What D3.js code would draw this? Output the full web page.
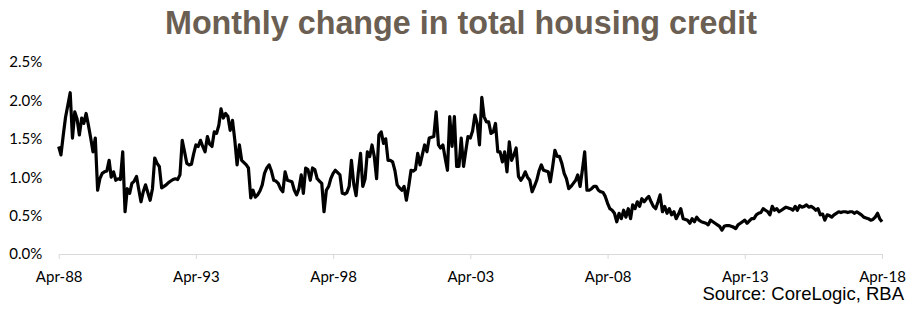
<!DOCTYPE html>
<html>
<head>
<meta charset="utf-8">
<script src="https://cdn.jsdelivr.net/npm/d3@7"></script>
<style>
  body { margin: 0; background: #fff; }
  svg { display: block; }
</style>
</head>
<body>
<svg id="chart"></svg>
<script>
// canvas size
const width = 914;
const height = 326;

// first month of the series (Apr-88), one value per month after that
const startMonth = new Date(1988, 3, 1);

// monthly change in housing credit, % (5 years per array)
const apr88to93 = [1.40, 1.29, 1.55, 1.78, 1.94, 2.10, 1.51, 1.85, 1.76, 1.55, 1.77, 1.70,
  1.83, 1.68, 1.51, 1.33, 1.51, 0.83, 0.98, 1.05, 1.07, 1.08, 1.22, 1.00,
  1.07, 0.96, 0.98, 0.97, 1.33, 0.55, 0.85, 0.79, 0.92, 0.95, 1.01, 0.85,
  0.68, 0.81, 0.90, 0.80, 0.70, 0.85, 1.25, 1.18, 1.14, 0.86, 0.88, 0.90,
  0.93, 0.95, 0.97, 0.98, 0.97, 1.03, 1.48, 1.33, 1.18, 1.16, 1.17, 1.30, 1.42];
const may93to98 = [1.40, 1.48, 1.40, 1.33, 1.53, 1.43, 1.40, 1.59, 1.57, 1.68, 1.89, 1.77,
  1.83, 1.79, 1.61, 1.74, 1.48, 1.16, 1.42, 1.22, 1.19, 1.16, 1.12, 0.73,
  0.83, 0.74, 0.77, 0.82, 0.90, 1.05, 1.12, 1.16, 1.08, 0.96, 0.95, 0.92,
  0.85, 0.81, 1.07, 0.96, 0.95, 0.94, 0.83, 0.77, 0.85, 1.03, 0.79, 1.12,
  1.10, 0.96, 1.12, 1.10, 0.98, 0.95, 0.92, 0.55, 0.83, 0.88, 0.98, 1.05];
const may98to03 = [1.09, 1.06, 1.03, 0.79, 0.78, 0.80, 0.88, 1.22, 0.91, 0.76, 1.05, 1.31,
  0.88, 0.98, 1.33, 1.27, 1.42, 1.27, 0.98, 1.55, 1.59, 1.44, 1.50, 1.22,
  1.22, 1.20, 1.09, 0.90, 0.86, 0.83, 0.88, 0.70, 0.88, 1.09, 1.08, 1.10,
  1.31, 1.16, 1.29, 1.42, 1.33, 1.51, 1.52, 1.53, 1.85, 1.42, 1.38, 1.42,
  1.25, 1.09, 1.79, 1.40, 1.79, 1.14, 1.14, 1.51, 1.14, 1.35, 1.53, 1.51];
const may03to08 = [1.60, 1.81, 1.70, 1.42, 2.04, 1.79, 1.72, 1.72, 1.57, 1.59, 1.70, 1.33,
  1.33, 1.20, 1.33, 1.07, 1.46, 1.22, 1.29, 1.38, 1.01, 0.96, 1.00, 1.07,
  1.00, 0.96, 0.81, 0.88, 0.96, 1.08, 1.16, 1.09, 1.08, 1.07, 0.94, 1.14,
  1.35, 1.27, 1.27, 1.18, 1.05, 0.98, 0.85, 0.88, 0.92, 0.96, 1.03, 0.88,
  1.09, 1.33, 0.83, 0.83, 0.85, 0.88, 0.88, 0.83, 0.81, 0.80, 0.75, 0.66];
const may08to13 = [0.59, 0.57, 0.53, 0.42, 0.53, 0.46, 0.57, 0.48, 0.59, 0.46, 0.64, 0.59,
  0.68, 0.62, 0.72, 0.68, 0.72, 0.75, 0.68, 0.62, 0.59, 0.68, 0.77, 0.55,
  0.62, 0.53, 0.59, 0.51, 0.55, 0.46, 0.52, 0.59, 0.46, 0.45, 0.44, 0.40,
  0.46, 0.42, 0.48, 0.44, 0.42, 0.41, 0.40, 0.38, 0.44, 0.42, 0.40, 0.38,
  0.36, 0.31, 0.36, 0.37, 0.37, 0.36, 0.35, 0.33, 0.38, 0.40, 0.42, 0.44];
const may13to18 = [0.40, 0.43, 0.46, 0.46, 0.51, 0.53, 0.54, 0.59, 0.57, 0.55, 0.51, 0.62,
  0.57, 0.59, 0.55, 0.57, 0.59, 0.61, 0.60, 0.59, 0.57, 0.62, 0.57, 0.63,
  0.61, 0.62, 0.64, 0.61, 0.62, 0.60, 0.57, 0.59, 0.51, 0.52, 0.44, 0.51,
  0.50, 0.48, 0.51, 0.53, 0.55, 0.54, 0.55, 0.55, 0.54, 0.55, 0.55, 0.53,
  0.55, 0.53, 0.51, 0.48, 0.47, 0.46, 0.44, 0.45, 0.48, 0.53, 0.46, 0.42];

const growth = [].concat(apr88to93, may93to98, may98to03, may03to08, may08to13, may13to18);

// axis ticks
const yTicks = [0, 0.5, 1.0, 1.5, 2.0, 2.5];
const xTickStep = 60; // months between labels (Apr-88, Apr-93, ... Apr-18)

const titleText = "Monthly change in total housing credit";
const sourceText = "Source: CoreLogic, RBA";

// build the table the line needs
const data = growth.map((v, i) => ({ date: d3.timeMonth.offset(startMonth, i), value: v }));
const xTickValues = d3.range(0, growth.length, xTickStep).map(i => d3.timeMonth.offset(startMonth, i));

const svg = d3.select("#chart")
  .attr("width", width)
  .attr("height", height);

// scales
const x = d3.scaleTime()
  .domain([startMonth, data[data.length - 1].date])
  .range([58.7, 882]);
const y = d3.scaleLinear()
  .domain([0, 2.5])
  .range([254, 62]);

// title
svg.append("text")
  .attr("x", 461)
  .attr("y", 34)
  .attr("text-anchor", "middle")
  .attr("font-family", "'Liberation Sans Narrow', 'Arial Narrow', 'Liberation Sans', sans-serif")
  .attr("font-weight", "bold")
  .attr("font-size", 33)
  .attr("fill", "#6b5f53")
  .attr("textLength", 592)
  .attr("lengthAdjust", "spacingAndGlyphs")
  .text(titleText);

// y axis - labels only
const yAxis = svg.append("g")
  .attr("transform", "translate(58.7,0)")
  .call(d3.axisLeft(y)
    .tickValues(yTicks)
    .tickSize(0)
    .tickPadding(16.5)
    .tickFormat(d => d.toFixed(1) + "%"));
yAxis.select(".domain").remove();

// x axis - light grey baseline with small ticks
const xAxis = svg.append("g")
  .attr("transform", "translate(0," + y(0) + ")")
  .call(d3.axisBottom(x)
    .tickValues(xTickValues)
    .tickSize(5)
    .tickSizeOuter(0)
    .tickPadding(12)
    .tickFormat(d3.timeFormat("%b-%y")));
xAxis.select(".domain").attr("stroke", "#d9d9d9");
xAxis.selectAll(".tick line").attr("stroke", "#d9d9d9");

svg.selectAll(".tick text")
  .attr("font-family", "Lato, 'Open Sans', sans-serif")
  .attr("font-size", 15)
  .attr("fill", "#000");

// the line
const line = d3.line()
  .x(d => x(d.date))
  .y(d => y(d.value));

svg.append("path")
  .datum(data)
  .attr("fill", "none")
  .attr("stroke", "#000")
  .attr("stroke-width", 3.2)
  .attr("stroke-linejoin", "round")
  .attr("d", line);

// source note
svg.append("text")
  .attr("x", 904)
  .attr("y", 300)
  .attr("text-anchor", "end")
  .attr("font-family", "'Liberation Sans', Arial, sans-serif")
  .attr("font-size", 18.5)
  .attr("fill", "#000")
  .text(sourceText);
</script>
</body>
</html>
